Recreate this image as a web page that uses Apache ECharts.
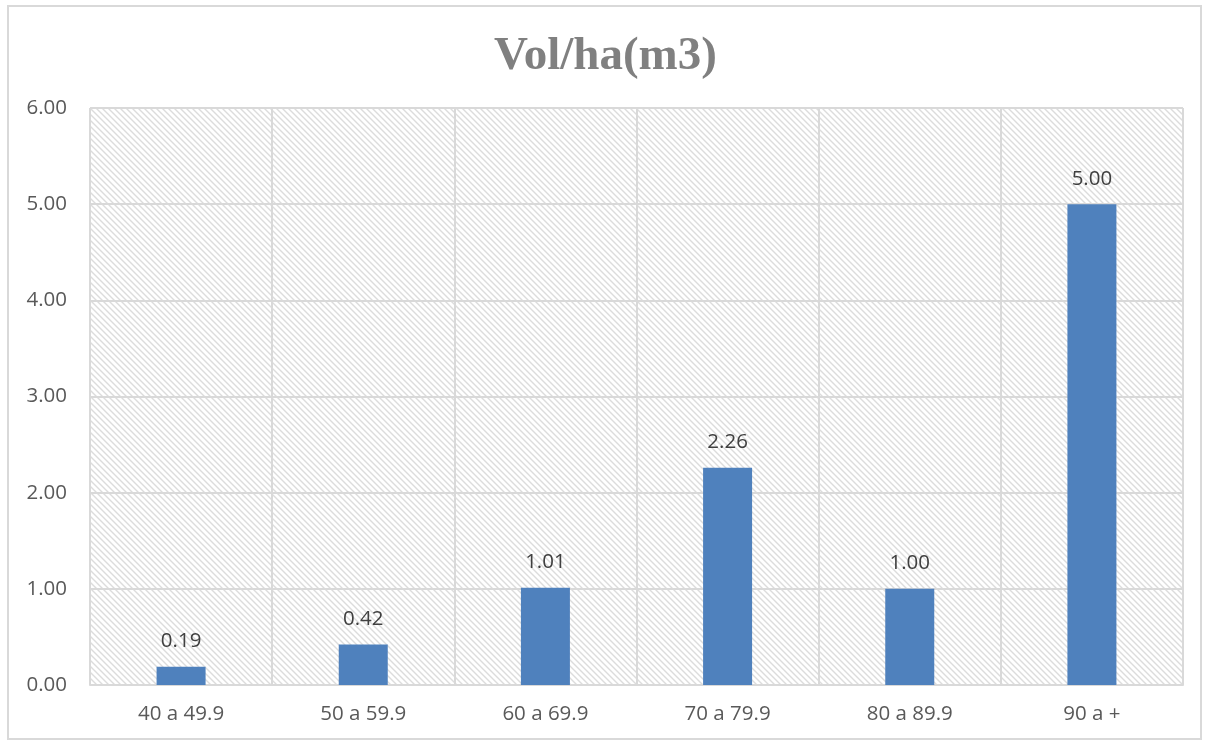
<!DOCTYPE html>
<html>
<head>
<meta charset="utf-8">
<script src="https://cdn.jsdelivr.net/npm/echarts@6/dist/echarts.min.js"></script>
<style>
  html, body { margin: 0; padding: 0; background: #fff; }
  #frame { position: absolute; left: 7px; top: 5px; width: 1195px; height: 735px; border: 2px solid #d9d9d9; box-sizing: border-box; }
  #chart { position: absolute; left: 0; top: 0; width: 1211px; height: 742px; }
</style>
</head>
<body>
<div id="frame"></div>
<div id="chart"></div>
<script>
const categories = ['40 a 49.9', '50 a 59.9', '60 a 69.9', '70 a 79.9', '80 a 89.9', '90 a +'];
const volumes = [0.19, 0.42, 1.01, 2.26, 1.00, 5.00];

// light diagonal hatch used as the plot-area fill
function hatchPattern() {
  const c = document.createElement('canvas');
  c.width = 6; c.height = 6;
  const g = c.getContext('2d');
  g.fillStyle = '#ffffff';
  g.fillRect(0, 0, 6, 6);
  g.strokeStyle = '#dcdcdc';
  g.lineWidth = 1.4;
  g.beginPath();
  g.moveTo(-1, -1); g.lineTo(7, 7);
  g.moveTo(-4, 2); g.lineTo(4, 10);
  g.moveTo(2, -4); g.lineTo(10, 4);
  g.stroke();
  return c;
}

const chart = echarts.init(document.getElementById('chart'), null, { renderer: 'canvas' });
chart.setOption({
  animation: false,
  title: {
    text: 'Vol/ha(m3)',
    left: 'center',
    top: 28,
    textStyle: { fontFamily: 'Liberation Serif', fontWeight: 'bold', fontSize: 47, color: '#808080' }
  },
  grid: {
    left: 90, right: 28, top: 108, bottom: 57,
    show: true,
    borderWidth: 0,
    backgroundColor: { image: hatchPattern(), repeat: 'repeat' }
  },
  xAxis: {
    type: 'category',
    data: categories,
    axisLine: { lineStyle: { color: '#d9d9d9', width: 2 } },
    axisTick: { show: false },
    axisLabel: { color: '#595959', fontFamily: 'Open Sans', fontSize: 20.5, margin: 19 },
    splitLine: { show: true, lineStyle: { color: '#d9d9d9', width: 2 } },
    boundaryGap: true
  },
  yAxis: {
    type: 'value',
    min: 0, max: 6, interval: 1,
    axisLine: { show: false },
    axisTick: { show: false },
    axisLabel: { color: '#595959', fontFamily: 'Open Sans', fontSize: 20.5, margin: 23, formatter: v => v.toFixed(2) },
    splitLine: { lineStyle: { color: '#d9d9d9', width: 2 } }
  },
  series: [{
    type: 'bar',
    data: volumes,
    barWidth: 49,
    itemStyle: { color: '#4f81bd' },
    label: {
      show: true,
      position: 'top',
      distance: 15,
      color: '#404040',
      fontFamily: 'Open Sans',
      fontSize: 20.5,
      formatter: p => p.value.toFixed(2)
    }
  }]
});
</script>
</body>
</html>
